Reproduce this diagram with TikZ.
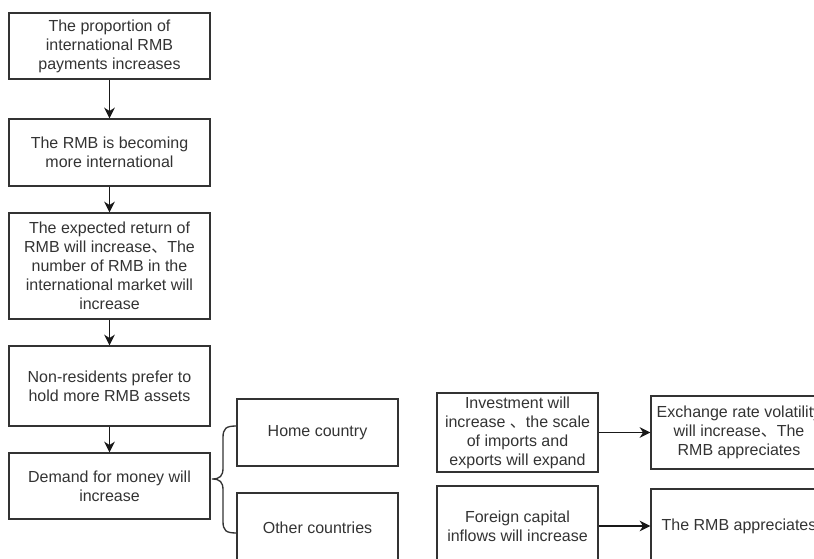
\documentclass[tikz,border=0pt]{standalone}
\usepackage{fontspec}
\setmainfont{Liberation Sans}
\newfontfamily\cjk{Noto Sans CJK SC}
\usetikzlibrary{arrows.meta}
\tikzset{
  box/.style={draw=black!80, line width=1.1pt, text=black!80, align=center, inner sep=0pt,
    font=\fontsize{12}{14.25}\selectfont},
  sz/.style 2 args={minimum width=#1*0.75pt, minimum height=#2*0.75pt},
  arr/.style={-{Stealth[length=8pt,width=8pt]}, line width=1pt, draw=black!90},
}
\newcommand{\dun}{{\cjk 、}}
\begin{document}
\begin{tikzpicture}[x=0.75pt,y=-0.75pt]
\useasboundingbox (0,0) rectangle (814,559);
% left column
\node[box,sz={201}{66}] (prop) at (109.5,46) {The proportion of\\international RMB\\payments increases};
\node[box,sz={201}{67}] (intl) at (109.5,152.5) {The RMB is becoming\\more international};
\node[box,sz={201}{106}] (ret) at (109.5,266) {The expected return of\\RMB will increase\dun The\\number of RMB in the\\international market will\\increase};
\node[box,sz={201}{80}] (hold) at (109.5,386) {Non-residents prefer to\\hold more RMB assets};
\node[box,sz={201}{66}] (dem) at (109.5,486) {Demand for money will\\increase};
\draw[arr] (prop) -- (intl);
\draw[arr] (intl) -- (ret);
\draw[arr] (ret) -- (hold);
\draw[arr] (hold) -- (dem);
% countries
\node[box,sz={161}{67}] (home) at (317.5,432.5) {Home country};
\node[box,sz={161}{70}] (other) at (317.5,528) {Other countries};
\draw[line width=1pt, draw=black!80] (237,426) .. controls (226,426) and (223,428) .. (223,438)
  -- (223,468) .. controls (223,476) and (220,479) .. (212,479)
  .. controls (220,479) and (223,482) .. (223,490) -- (223,521)
  .. controls (223,531) and (226,533) .. (237,533);
% effects
\node[box,sz={161}{79}] (inv) at (517.5,432.5) {Investment will\\increase \dun the scale\\of imports and\\exports will expand};
\node[box,sz={176}{73}] (exch) at (739,432.5) {Exchange rate volatility\\will increase\dun The\\RMB appreciates};
\node[box,sz={161}{80}] (fore) at (517.5,526) {Foreign capital\\inflows will increase};
\node[box,sz={176}{74}] (appr) at (739,526) {The RMB appreciates};
\draw[arr] (inv) -- (exch);
\draw[arr] (fore) -- (appr);
\end{tikzpicture}
\end{document}
